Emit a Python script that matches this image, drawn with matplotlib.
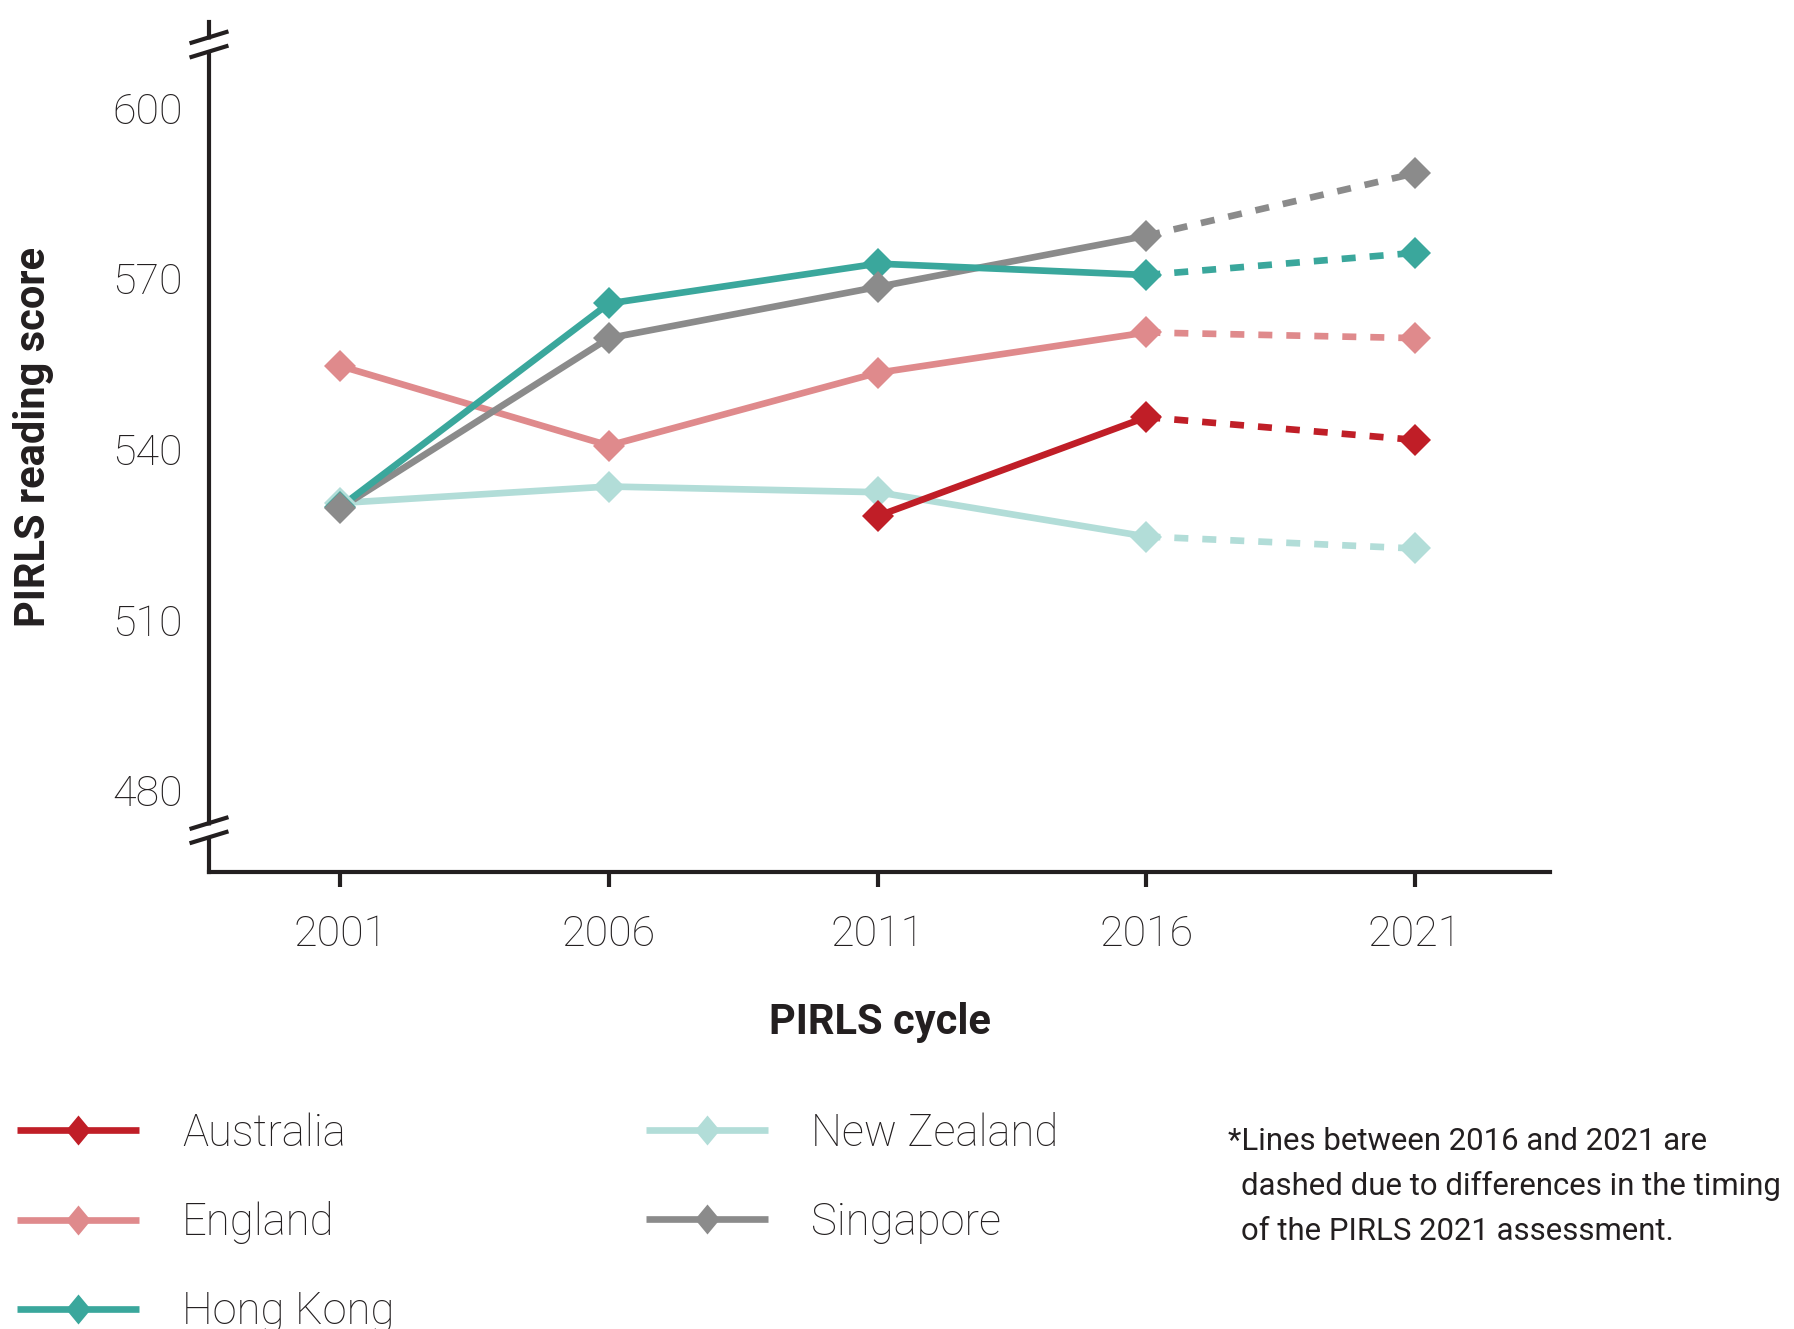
import numpy as np
import matplotlib.pyplot as plt
from matplotlib.lines import Line2D
from matplotlib.path import Path

# PIRLS reading scores
years = [2001, 2006, 2011, 2016, 2021]
countries = ["Australia", "England", "Hong Kong", "New Zealand", "Singapore"]
australia = [np.nan, np.nan, 528.2, 545.6, 541.6]
england = [554.6, 540.6, 553.4, 560.5, 559.5]
hong_kong = [529.8, 565.6, 572.6, 570.6, 574.5]
new_zealand = [530.5, 533.4, 532.4, 524.6, 522.5]
singapore = [529.6, 559.5, 568.5, 577.5, 588.5]
colors = ["#C01E27", "#DF8A8C", "#3AA79C", "#B2DDD8", "#8B8B8B"]
y_ticks = [480, 510, 540, 570, 600]
note_lines = ["*Lines between 2016 and 2021 are",
              "dashed due to differences in the timing",
              "of the PIRLS 2021 assessment."]

series = [australia, england, hong_kong, new_zealand, singapore]
ink = "#231F20"

plt.rcParams["font.family"] = ["Roboto", "DejaVu Sans"]

W, H = 1794, 1329
fig = plt.figure(figsize=(W / 100, H / 100), dpi=100)
ax = fig.add_axes([209 / W, 1 - 872 / H, (1550 - 209) / W, (872 - 22) / H])

lw = 4.8
line_order = [3, 1, 4, 2, 0]     # NZ, England, Singapore, HK, Australia
for i in line_order:
    vals = series[i]
    ax.plot(years[:4], vals[:4], color=colors[i], lw=lw, zorder=2,
            solid_capstyle="butt")
    ax.plot(years[3:], vals[3:], color=colors[i], lw=lw, zorder=2,
            dashes=(2.1, 2.1), dash_capstyle="butt")

marker_order = [3, 2, 1, 4, 0]
for i in marker_order:
    ax.plot(years, series[i], ls="none", marker="D", ms=16.3, mew=0,
            color=colors[i], zorder=3)

ax.set_xlim(1998.56, 2023.51)
ax.set_ylim(465.6, 615.1)
ax.set_xticks(years)
ax.set_yticks(y_ticks)

for s in ["top", "right"]:
    ax.spines[s].set_visible(False)
for s in ["left", "bottom"]:
    ax.spines[s].set_linewidth(3)
    ax.spines[s].set_color(ink)

ax.tick_params(axis="x", length=11, width=3, color=ink, pad=19.5,
               labelsize=31, labelcolor=ink)
ax.tick_params(axis="y", length=0, pad=19, labelsize=31, labelcolor=ink)
for lab in ax.get_xticklabels() + ax.get_yticklabels():
    lab.set_fontweight("light")

# axis break marks on the y axis
ytr = ax.get_yaxis_transform()
for lo, hi in [(471.7, 474.2), (609.9, 612.4)]:
    ax.plot([0, 0], [lo + 0.3, hi - 0.3], color="white", lw=5,
            transform=ytr, clip_on=False, zorder=4, solid_capstyle="butt")
    for yv in (lo, hi):
        ax.plot([-0.0145, 0.0145], [yv - 1.05, yv + 1.05], color=ink,
                lw=3, transform=ytr, clip_on=False, zorder=5,
                solid_capstyle="butt")

fig.text(33 / W, 1 - 437 / H, "PIRLS reading score", rotation=90,
         ha="center", va="center", fontsize=30, fontweight="bold", color=ink)
fig.text(880 / W, 1 - 1034 / H, "PIRLS cycle", ha="center", va="baseline",
         fontsize=30, fontweight="bold", color=ink)

# legend with slim diamond handles
slim = Path([(0, 1), (0.83, 0), (0, -1), (-0.83, 0), (0, 1)],
            [Path.MOVETO, Path.LINETO, Path.LINETO, Path.LINETO, Path.CLOSEPOLY])
handles = [Line2D([], [], color=c, lw=4.8, marker=slim, ms=21.6, mew=0,
                  solid_capstyle="butt") for c in colors]
leg = fig.legend(handles, countries, loc="upper left",
                 bbox_to_anchor=(17 / W, 1 - 1112 / H), ncol=2,
                 frameon=False, borderpad=0, borderaxespad=0,
                 handlelength=2.79, handletextpad=0.99, columnspacing=5.77,
                 labelspacing=1.07,
                 prop={"family": "Roboto", "weight": "light", "size": 31.4})
for t in leg.get_texts():
    t.set_color(ink)

note_x = [1228, 1241, 1241]
note_y = [1150, 1195, 1240]
for txt, x, y in zip(note_lines, note_x, note_y):
    fig.text(x / W, 1 - y / H, txt, ha="left", va="baseline", fontsize=22.4,
             color=ink)

fig.savefig("out.png", dpi=100)
